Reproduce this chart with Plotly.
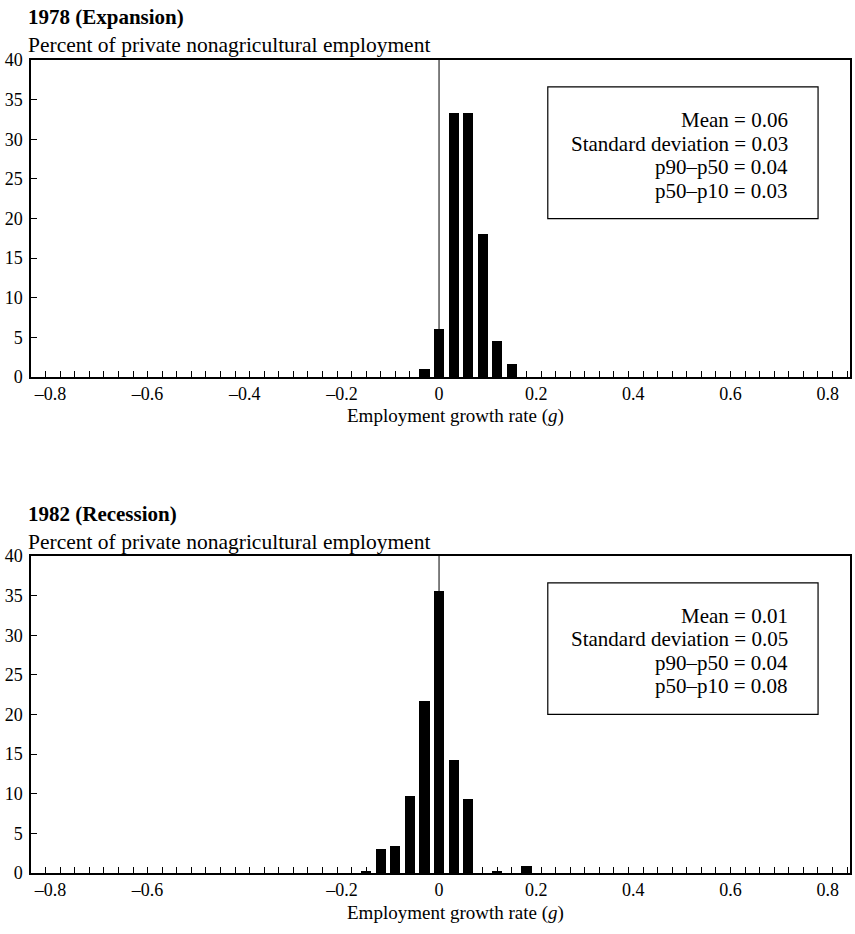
import numpy as np
import plotly.graph_objects as go

# Employment-growth histograms: share of private nonagricultural employment by growth-rate bin
bins_1978 = [-0.03, 0.0, 0.03, 0.06, 0.09, 0.12, 0.15]
pct_1978 = [1.0, 6.1, 33.3, 33.3, 18.0, 4.5, 1.7]

bins_1982 = [-0.15, -0.12, -0.09, -0.06, -0.03, 0.0, 0.03, 0.06, 0.12, 0.18]
pct_1982 = [0.2, 3.0, 3.4, 9.7, 21.7, 35.6, 14.3, 9.4, 0.2, 0.9]

stats_1978 = ["Mean = 0.06", "Standard deviation = 0.03", "p90–p50 = 0.04", "p50–p10 = 0.03"]
stats_1982 = ["Mean = 0.01", "Standard deviation = 0.05", "p90–p50 = 0.04", "p50–p10 = 0.08"]

xlab_vals_1978 = [-0.8, -0.6, -0.4, -0.2, 0.0, 0.2, 0.4, 0.6, 0.8]
xlab_text_1978 = ["–0.8", "–0.6", "–0.4", "–0.2", "0", "0.2", "0.4", "0.6", "0.8"]
xlab_vals_1982 = [-0.8, -0.6, -0.2, 0.0, 0.2, 0.4, 0.6, 0.8]
xlab_text_1982 = ["–0.8", "–0.6", "–0.2", "0", "0.2", "0.4", "0.6", "0.8"]
y_ticks = [0, 5, 10, 15, 20, 25, 30, 35, 40]

BIN = 0.03
minor_ticks = list(np.round(np.arange(-28, 29) * BIN, 4))
X_RANGE = [-0.84, 0.846]
FONT = "Liberation Serif"

fig = go.Figure()
fig.add_trace(go.Bar(x=bins_1978, y=pct_1978, xaxis="x", yaxis="y", width=0.021,
                     marker=dict(color="black", line=dict(width=0)), showlegend=False))
fig.add_trace(go.Bar(x=bins_1982, y=pct_1982, xaxis="x2", yaxis="y2", width=0.021,
                     marker=dict(color="black", line=dict(width=0)), showlegend=False))
# invisible carriers so the bin-tick axes get drawn
for xa, ya in [("x3", "y"), ("x4", "y2")]:
    fig.add_trace(go.Scatter(x=[0], y=[0], xaxis=xa, yaxis=ya, mode="markers",
                             marker=dict(opacity=0), hoverinfo="skip", showlegend=False))


def label_axis(vals, text, yname):
    return dict(anchor=yname, domain=[0, 1], range=X_RANGE, tickmode="array",
                tickvals=vals, ticktext=text, ticks="", showline=True, mirror=True,
                linecolor="black", linewidth=1.5, showgrid=False, zeroline=False,
                tickfont=dict(family=FONT, size=18, color="black"))


def tick_axis(over, yname):
    return dict(overlaying=over, anchor=yname, range=X_RANGE, tickmode="array",
                tickvals=minor_ticks, ticks="inside", ticklen=6, tickwidth=1.2,
                tickcolor="black", showticklabels=False, showline=False,
                showgrid=False, zeroline=False)


def y_axis(dom, xname):
    return dict(anchor=xname, domain=dom, range=[0, 40], tickmode="array",
                tickvals=y_ticks, ticks="inside", ticklen=6, tickwidth=1.2,
                tickcolor="black", showline=True, mirror=True, linecolor="black",
                linewidth=1.5, showgrid=False, zeroline=False, ticklabelstandoff=3,
                tickfont=dict(family=FONT, size=18, color="black"))


TOP_DOM = [0.61, 1.0]
BOT_DOM = [0.0, 0.39]

fig.update_layout(
    width=855, height=934,
    margin=dict(l=31, r=3, t=60, b=61),
    paper_bgcolor="white", plot_bgcolor="white",
    bargap=0,
    xaxis=label_axis(xlab_vals_1978, xlab_text_1978, "y"),
    xaxis2=label_axis(xlab_vals_1982, xlab_text_1982, "y2"),
    xaxis3=tick_axis("x", "y"),
    xaxis4=tick_axis("x2", "y2"),
    yaxis=y_axis(TOP_DOM, "x"),
    yaxis2=y_axis(BOT_DOM, "x2"),
    font=dict(family=FONT, color="black"),
)

shapes = []
annotations = []
PLOT_H = 934 - 60 - 61


def py(pix):
    # pixel row (from page top) -> paper y
    return 1 - (pix - 60) / PLOT_H


def px(pix):
    return (pix - 31) / (855 - 31 - 3)


for xa, ya, title, top_pix, stats in [
    ("x", "y", "1978 (Expansion)", 60, stats_1978),
    ("x2", "y2", "1982 (Recession)", 557, stats_1982),
]:
    # zero reference line
    shapes.append(dict(type="line", xref=xa, yref=ya, x0=0, x1=0, y0=0, y1=40,
                       line=dict(color="black", width=1), layer="below"))
    # statistics box
    shapes.append(dict(type="rect", xref=f"{xa} domain", yref=f"{ya} domain",
                       x0=0.631, x1=0.961, y0=0.5, y1=0.915,
                       line=dict(color="black", width=1.2), fillcolor="rgba(0,0,0,0)"))
    for i, s in enumerate(stats):
        annotations.append(dict(xref=f"{xa} domain", yref=f"{ya} domain",
                                x=0.927, y=1 - (60 + 23.5 * i) / 317, xanchor="right",
                                yanchor="middle", text=s, showarrow=False,
                                font=dict(family=FONT, size=21, color="black")))
    annotations.append(dict(xref="paper", yref="paper", x=px(26), y=py(top_pix - 43),
                            xanchor="left", yanchor="middle", text=f"<b>{title}</b>",
                            showarrow=False, font=dict(family=FONT, size=21, color="black")))
    annotations.append(dict(xref="paper", yref="paper", x=px(26), y=py(top_pix - 15),
                            xanchor="left", yanchor="middle",
                            text="Percent of private nonagricultural employment",
                            showarrow=False, font=dict(family=FONT, size=21.5, color="black")))
    annotations.append(dict(xref="paper", yref="paper", x=px(457), y=py(top_pix + 356),
                            xanchor="center", yanchor="middle",
                            text="Employment growth rate (<i>g</i>)",
                            showarrow=False, font=dict(family=FONT, size=19, color="black")))

fig.update_layout(shapes=shapes, annotations=annotations)
fig.write_html("out.html")
